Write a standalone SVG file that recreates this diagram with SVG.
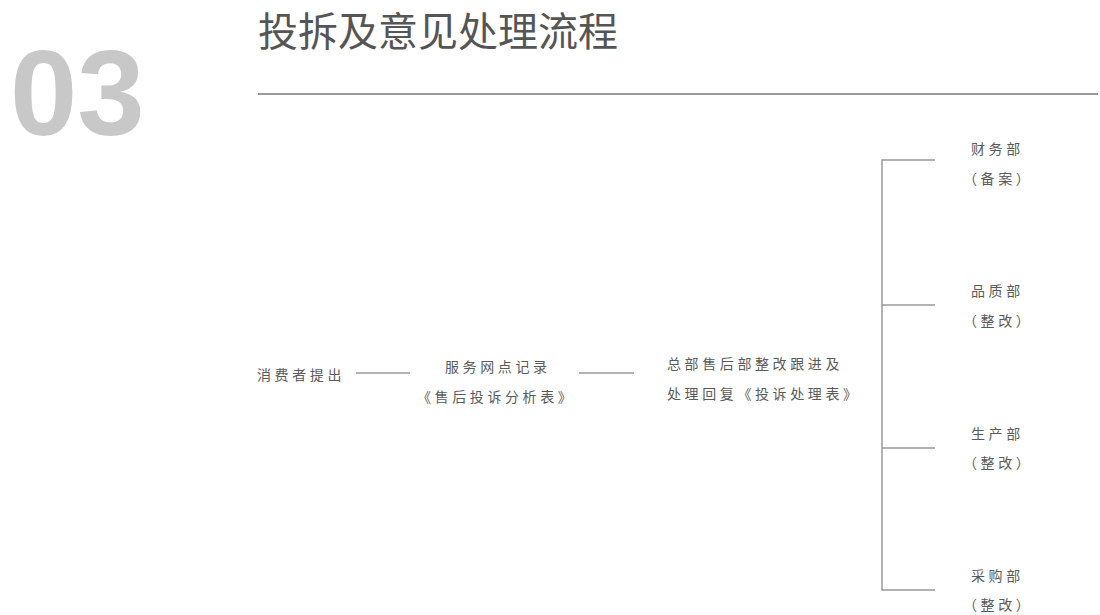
<svg xmlns="http://www.w3.org/2000/svg" width="1100" height="615" viewBox="0 0 1100 615">
<style>
.t{font-family:"Noto Sans CJK SC","Noto Sans",sans-serif;font-size:14px;fill:#5a5a5a;letter-spacing:3.6px}
.ln{stroke:#999;stroke-width:1.5;fill:none}
</style>
<rect width="1100" height="615" fill="#fff"/>
<g id="header">
<text x="10" y="135" font-family="'Liberation Sans',Arial,sans-serif" font-weight="bold" font-size="121" fill="#c8c8c8">03</text>
<text x="258" y="46" font-family="'Noto Sans CJK SC',sans-serif" font-size="40" fill="#555">投拆及意见处理流程</text>
<line x1="258" y1="94" x2="1098" y2="94" stroke="#999" stroke-width="2"/>
</g>
<g id="connectors">
<line class="ln" x1="356" y1="373" x2="410" y2="373"/>
<line class="ln" x1="579" y1="373" x2="634" y2="373"/>
<polyline class="ln" points="935,160 882,160 882,590 935,590"/>
<line class="ln" x1="882" y1="305" x2="935" y2="305"/>
<line class="ln" x1="882" y1="448" x2="935" y2="448"/>
</g>
<g id="n1"><text class="t" x="257" y="380">消费者提出</text></g>
<g id="n2"><text class="t" x="445" y="372">服务网点记录</text><text class="t" x="417" y="402">《售后投诉分析表》</text></g>
<g id="n3"><text class="t" x="667" y="369">总部售后部整改跟进及</text><text class="t" x="667" y="399">处理回复《投诉处理表》</text></g>
<g id="n4"><text class="t" x="971" y="154">财务部</text><text class="t" x="963" y="184">（备案）</text></g>
<g id="n5"><text class="t" x="971" y="296">品质部</text><text class="t" x="963" y="326">（整改）</text></g>
<g id="n6"><text class="t" x="971" y="439">生产部</text><text class="t" x="963" y="468">（整改）</text></g>
<g id="n7"><text class="t" x="971" y="581">采购部</text><text class="t" x="963" y="610">（整改）</text></g>
</svg>
